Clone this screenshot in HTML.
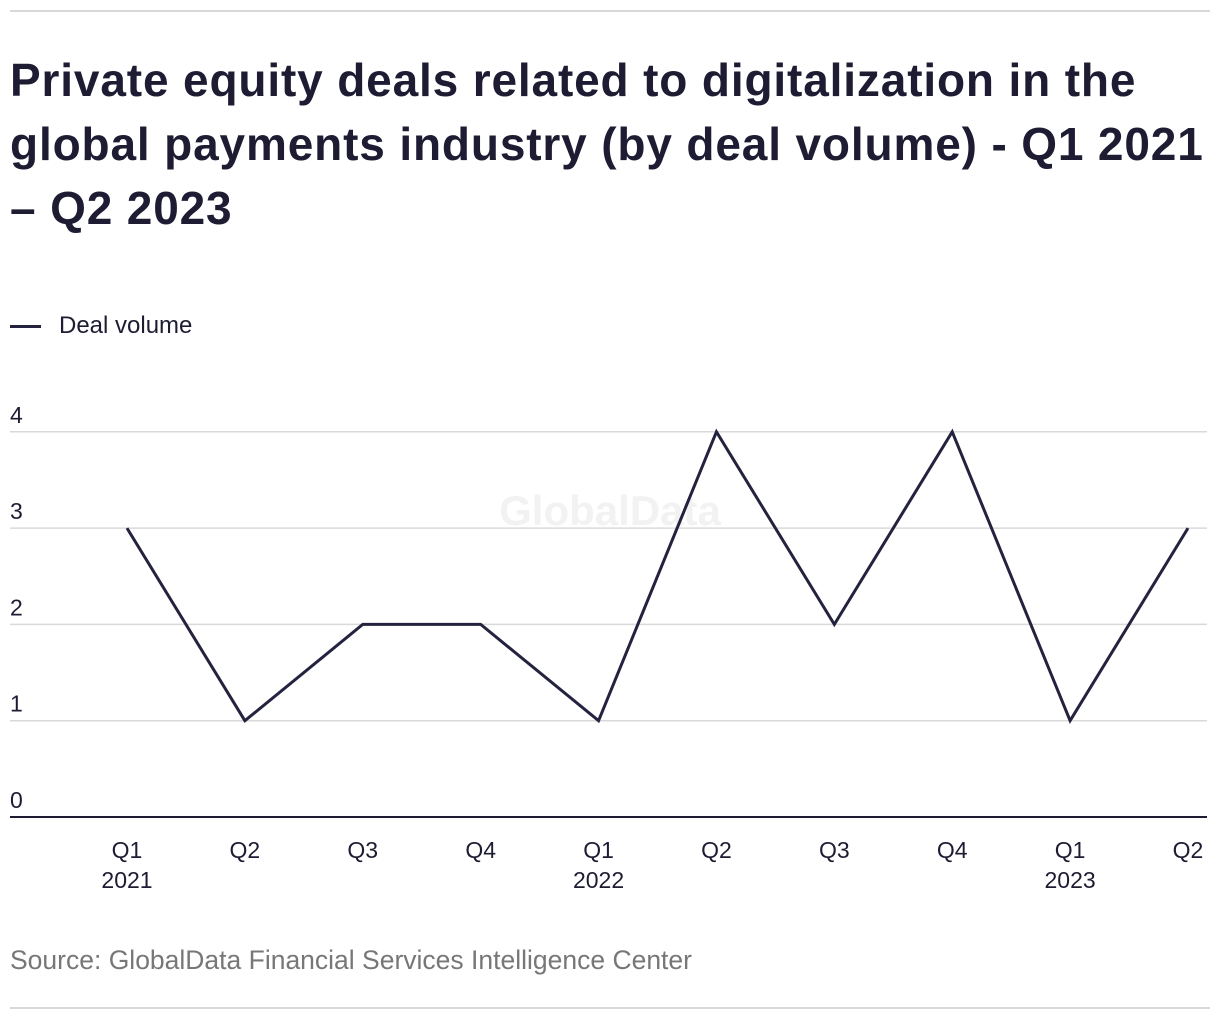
<!DOCTYPE html>
<html><head><meta charset="utf-8"><style>
body{margin:0;background:#fff;font-family:"Liberation Sans",sans-serif;}
#wrap{position:relative;width:1220px;height:1020px;overflow:hidden;}
.rule{position:absolute;left:10px;width:1200px;height:2px;background:#d9d9d9;}
h1{position:absolute;left:10px;top:48px;margin:0;font-size:46px;line-height:64px;font-weight:bold;color:#1d1c33;width:1215px;white-space:nowrap;letter-spacing:0.85px;}
.legend{position:absolute;left:10px;top:312px;font-size:24px;color:#1d1c33;display:flex;align-items:center;}
.legend span.sw{display:inline-block;width:31px;height:3px;background:#24233f;margin-right:18px;}
.src{position:absolute;left:10px;top:945px;font-size:26.5px;color:#777;}
</style></head><body>
<div id="wrap">
<div class="rule" style="top:10px"></div>
<h1>Private equity deals related to digitalization in the<br>global payments industry (by deal volume) - Q1 2021<br>– Q2 2023</h1>
<div class="legend"><span class="sw"></span>Deal volume</div>
<svg id="chart" width="1220" height="1020" style="position:absolute;left:0;top:0">
<text x="610" y="525" text-anchor="middle" font-size="42" font-weight="bold" fill="#f2f2f2" font-family="Liberation Sans,sans-serif">GlobalData</text>
</svg>
<div class="src">Source: GlobalData Financial Services Intelligence Center</div>
<div class="rule" style="top:1007px"></div>
</div>
<script>
const quarters=["Q1","Q2","Q3","Q4","Q1","Q2","Q3","Q4","Q1","Q2"];
const years=["2021","","","","2022","","","","2023",""];
const values=[3,1,2,2,1,4,2,4,1,3];
const yTicks=[0,1,2,3,4];
const svg=document.getElementById('chart');
const NS='http://www.w3.org/2000/svg';
const x=i=>127+i*(1188-127)/(quarters.length-1);
const y=v=>817-v*96.3;
function mk(t,a){const e=document.createElementNS(NS,t);for(const k in a)e.setAttribute(k,a[k]);svg.appendChild(e);return e;}
yTicks.forEach(v=>{
 const l=mk('line',{x1:10,x2:1207,y1:y(v),y2:y(v),stroke:v===0?'#1d1c33':'#d9d9d9','stroke-width':v===0?2:1.5});
 
 
 const t=mk('text',{x:10,y:y(v)-9,'font-size':23,fill:'#1d1c33','font-family':'Liberation Sans,sans-serif'});
 t.textContent=v;
 
 
});
quarters.forEach((q,i)=>{
 const t=mk('text',{x:x(i),y:858,'font-size':23,fill:'#1d1c33','text-anchor':'middle','font-family':'Liberation Sans,sans-serif'});
 t.textContent=q;
 
 
 if(years[i]){const t2=mk('text',{x:x(i),y:888,'font-size':23,fill:'#1d1c33','text-anchor':'middle','font-family':'Liberation Sans,sans-serif'});
 t2.textContent=years[i];
 
 }
});
const p=mk('polyline',{points:values.map((v,i)=>x(i)+','+y(v)).join(' '),fill:'none',stroke:'#24233f','stroke-width':3,'stroke-linejoin':'miter'});


</script>
</body></html>
